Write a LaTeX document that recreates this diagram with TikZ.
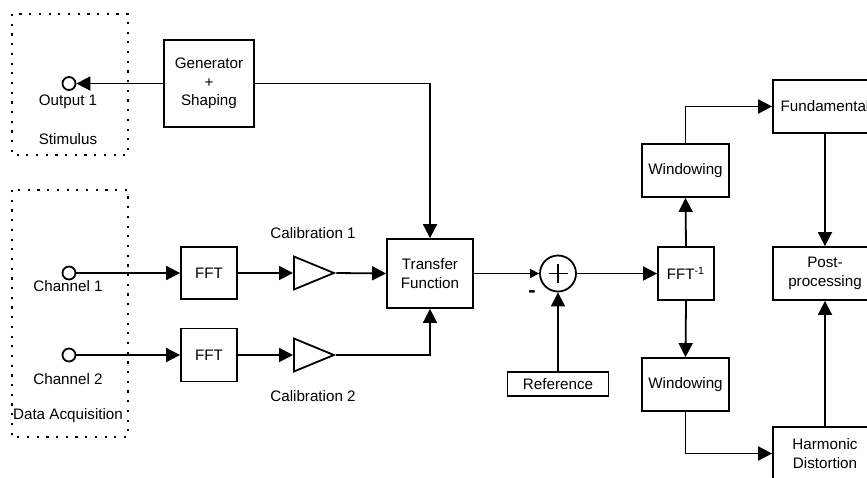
\documentclass[tikz,border=0pt]{standalone}
\usepackage{fontspec}
\setmainfont{Liberation Sans}
\usetikzlibrary{arrows.meta,shapes.geometric}

\tikzset{
  block/.style={draw,rectangle,line width=0.9pt,inner sep=0pt,align=center},
  port/.style={draw,circle,line width=0.9pt,minimum size=6.5pt,inner sep=0pt},
  amp/.style={draw,isosceles triangle,isosceles triangle stretches,line width=0.9pt,
    minimum width=16.5pt,minimum height=20pt,inner sep=0pt},
  group/.style={line width=1.1pt,dash pattern=on 1.1pt off 3.75pt},
  sig/.style={line width=0.9pt,-{Triangle[length=7pt,width=7pt]}},
  thin sig/.style={line width=0.6pt,-{Triangle[length=4.5pt,width=4.5pt]}},
}

\begin{document}
\begin{tikzpicture}[x=0.5pt,y=-0.5pt,font=\fontsize{7.6}{9.3}\selectfont]
\useasboundingbox (0,0) rectangle (867,477);
\clip (0,0) rectangle (867,477);

% groups
\draw[group] (12,14) rectangle (128,155);
\draw[group] (12,190) rectangle (128,437);
\node (lbl-stim) at (68,139) {Stimulus};
\node (lbl-daq) at (68,416) {Data Acquisition};

% ports
\node[port] (out-1) at (69,83.5) {};
\node[port] (chan-1) at (69,273) {};
\node[port] (chan-2) at (69,355) {};
\node (lbl-out-1) at (68,102) {Output 1};
\node (lbl-chan-1) at (68,286) {Channel 1};
\node (lbl-chan-2) at (68,379) {Channel 2};

% blocks
\node[block,minimum width=45pt,minimum height=43.5pt] (gen) at (209,83.5) {Generator\\+\\Shaping};
\node[block,minimum width=28pt,minimum height=26pt] (fft-1) at (209,273) {FFT};
\node[block,minimum width=28pt,minimum height=26.5pt] (fft-2) at (209,355) {FFT};
\node[amp,anchor=lower side] (amp-1) at (293,273) {};
\node[amp,anchor=lower side] (amp-2) at (293,355) {};
\node (lbl-cal-1) at (313,233) {Calibration 1};
\node (lbl-cal-2) at (313,396) {Calibration 2};
\node[block,minimum width=43pt,minimum height=34.5pt] (tf) at (430,273.5) {Transfer\\Function};
\node[draw,circle,line width=0.9pt,minimum size=18pt,inner sep=0pt] (sum) at (558,273.5) {};
\draw[line width=0.9pt] (sum.center) +(-9.5,0) -- +(9.5,0) +(0,-9.5) -- +(0,9.5);
\node[font=\fontsize{11}{11}\selectfont\bfseries] (minus) at (532,294) {-};
\node[block,line width=0.6pt,minimum width=50.5pt,minimum height=12pt] (ref) at (558,384) {Reference};
\node[block,minimum width=28pt,minimum height=26.5pt] (ifft) at (686,273.5) {FFT\textsuperscript{-1}};
\node[block,minimum width=43.5pt,minimum height=26.5pt] (win-top) at (685.5,170.5) {Windowing};
\node[block,minimum width=43.5pt,minimum height=26.5pt] (win-bot) at (685.5,384.5) {Windowing};
\node[block,minimum width=52pt,minimum height=26.5pt] (fund) at (825,106.5) {Fundamental};
\node[block,minimum width=52pt,minimum height=26.5pt] (post) at (825,273.5) {Post-\\processing};
\node[block,minimum width=52pt,minimum height=26.5pt] (harm) at (825,453.5) {Harmonic\\Distortion};

% signal flow
\draw[sig] (gen.west) -- (out-1.east);
\draw[sig] (gen.east) -| (tf.north);
\draw[sig] (chan-1.east) -- (fft-1.west);
\draw[sig] (chan-2.east) -- (fft-2.west);
\draw[sig] (fft-1.east) -- (amp-1.lower side);
\draw[sig] (fft-2.east) -- (amp-2.lower side);
\draw[sig] (amp-1.apex) -- (tf.west);
\draw[sig] (amp-2.apex) -| (tf.south);
\draw[thin sig] (tf.east) -- (sum.west);
\draw[line width=0.6pt,-{Triangle[length=7pt,width=7pt]}] (ref.north) -- (sum.south);
\draw[sig] (sum.east) -- (ifft.west);
\draw[sig] (ifft.north) -- (win-top.south);
\draw[sig] (ifft.south) -- (win-bot.north);
\draw[sig] (win-top.north) |- (fund.west);
\draw[sig] (win-bot.south) |- (harm.west);
\draw[sig] (fund.south) -- (post.north);
\draw[sig] (harm.north) -- (post.south);
\end{tikzpicture}
\end{document}
